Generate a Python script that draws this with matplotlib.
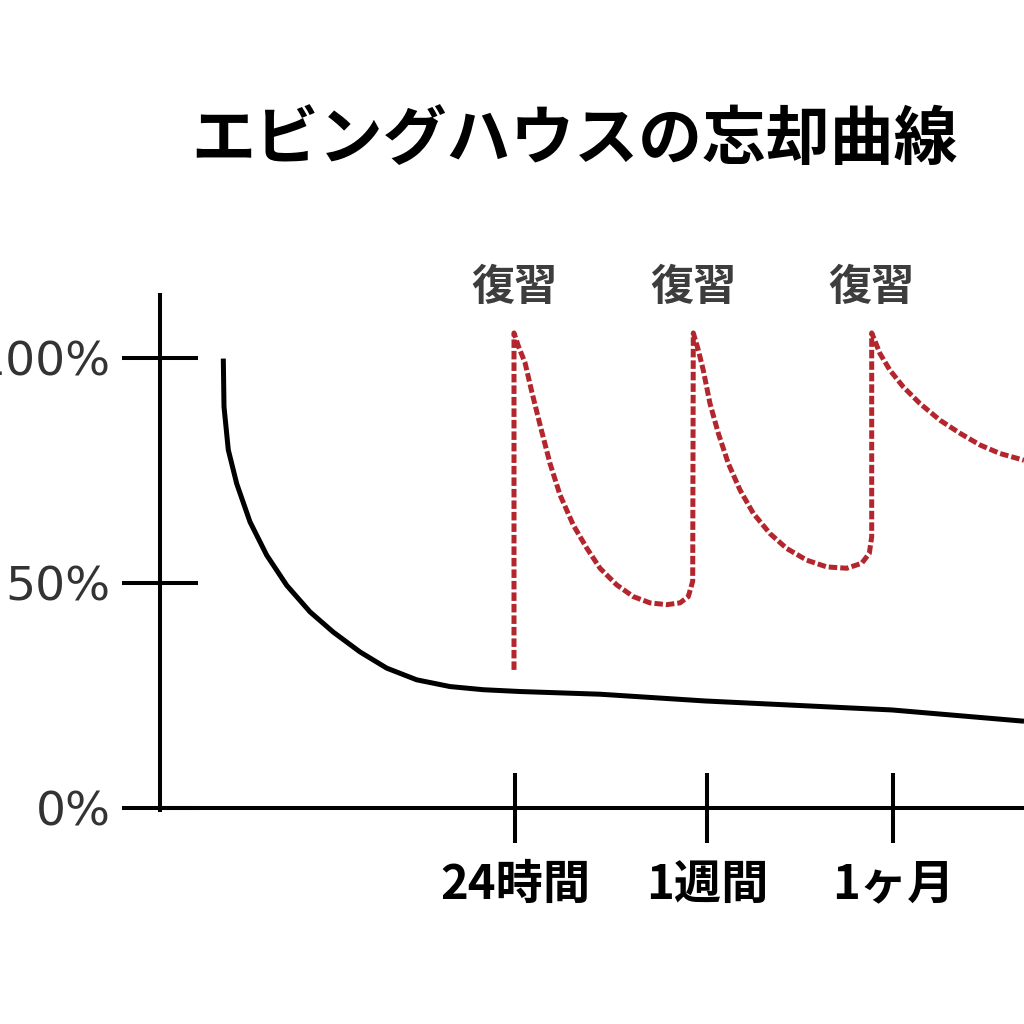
import matplotlib
matplotlib.use('Agg')
import matplotlib.pyplot as plt

plt.rcParams['font.family'] = ['Noto Sans CJK JP', 'DejaVu Sans']

# Data (x in arbitrary time units, y in % retained)
forget_x = [0.633, 0.64, 0.683, 0.767, 0.90, 1.067, 1.267, 1.50, 1.733, 2.00, 2.267,
            2.567, 2.90, 3.233, 3.60, 4.40, 5.45, 7.32, 8.64]
forget_y = [99.9, 89.2, 79.6, 72.1, 63.6, 56.2, 49.5, 43.6, 39.1, 34.7, 31.1,
            28.5, 27.0, 26.3, 25.9, 25.3, 23.8, 21.8, 19.3]

review_x = [3.54, 3.54, 3.583, 3.65, 3.717, 3.80, 3.90, 4.00, 4.133, 4.267, 4.40, 4.567,
            4.733, 4.90, 5.067, 5.20, 5.283, 5.327,
            5.333, 5.383, 5.433, 5.50, 5.583, 5.683, 5.80, 5.933, 6.10, 6.267, 6.467,
            6.667, 6.867, 7.017, 7.093, 7.117,
            7.117, 7.20, 7.30, 7.433, 7.60, 7.80, 8.00, 8.20, 8.40, 8.64]
review_y = [30.7, 105.6, 102.7, 99.0, 92.6, 85.2, 76.6, 69.6, 62.9, 57.8, 53.3, 49.6,
            47.0, 45.6, 45.2, 45.6, 47.0, 50.4,
            105.6, 101.8, 97.3, 89.9, 83.3, 76.6, 70.7, 65.5, 61.0, 57.7, 55.1,
            53.6, 53.3, 54.4, 56.6, 60.3,
            105.6, 101.0, 97.3, 93.6, 89.9, 86.2, 83.3, 80.7, 78.8, 77.3]

review_points = [3.54, 5.333, 7.117]
review_label = '復習'

xtick_pos = [3.55, 5.47, 7.33]
xtick_labels = ['24時間', '1週間', '1ヶ月']
ytick_pos = [0, 50, 100]
ytick_labels = ['0%', '50%', '100%']

title = 'エビングハウスの忘却曲線'

fig = plt.figure(figsize=(10.24, 10.24), dpi=100)
ax = fig.add_axes([0, 0, 1, 1])
ax.set_xlim(-1.6, 8.64)
ax.set_ylim(-48, 179.6)

# curves
ax.plot(forget_x, forget_y, color='black', lw=3.6, solid_capstyle='butt',
        solid_joinstyle='round', zorder=3)
ax.plot(review_x, review_y, color='#b3262d', lw=3.6, linestyle=(0, (1.7, 0.6)),
        dash_capstyle='butt', zorder=3)

for rx in review_points:
    ax.text(rx, 115.8, review_label, ha='center', va='center', fontsize=31,
            fontweight='bold', color='#3d3d3d')

# axes
for side in ['top', 'right']:
    ax.spines[side].set_visible(False)
ax.spines['left'].set_position(('data', 0))
ax.spines['bottom'].set_position(('data', 0))
ax.spines['left'].set_bounds(-0.5, 114)
ax.spines['bottom'].set_bounds(0, 8.64)
for side in ['left', 'bottom']:
    ax.spines[side].set_linewidth(2.9)
    ax.spines[side].set_color('black')

ax.set_yticks(ytick_pos)
ax.set_yticklabels(ytick_labels, family='DejaVu Sans', fontsize=34, color='#333333')
ax.set_xticks(xtick_pos)
ax.set_xticklabels(xtick_labels, fontsize=34, fontweight='bold', color='black')
ax.tick_params(axis='y', direction='inout', length=55, width=2.9, pad=8)
ax.tick_params(axis='x', direction='inout', length=50, width=2.9, pad=13)

fig.text(574 / 1024, 1 - 140 / 1024, title, ha='center', va='center', fontsize=46,
         fontweight='bold', color='black')

fig.savefig('out.png', dpi=100, facecolor='white')
